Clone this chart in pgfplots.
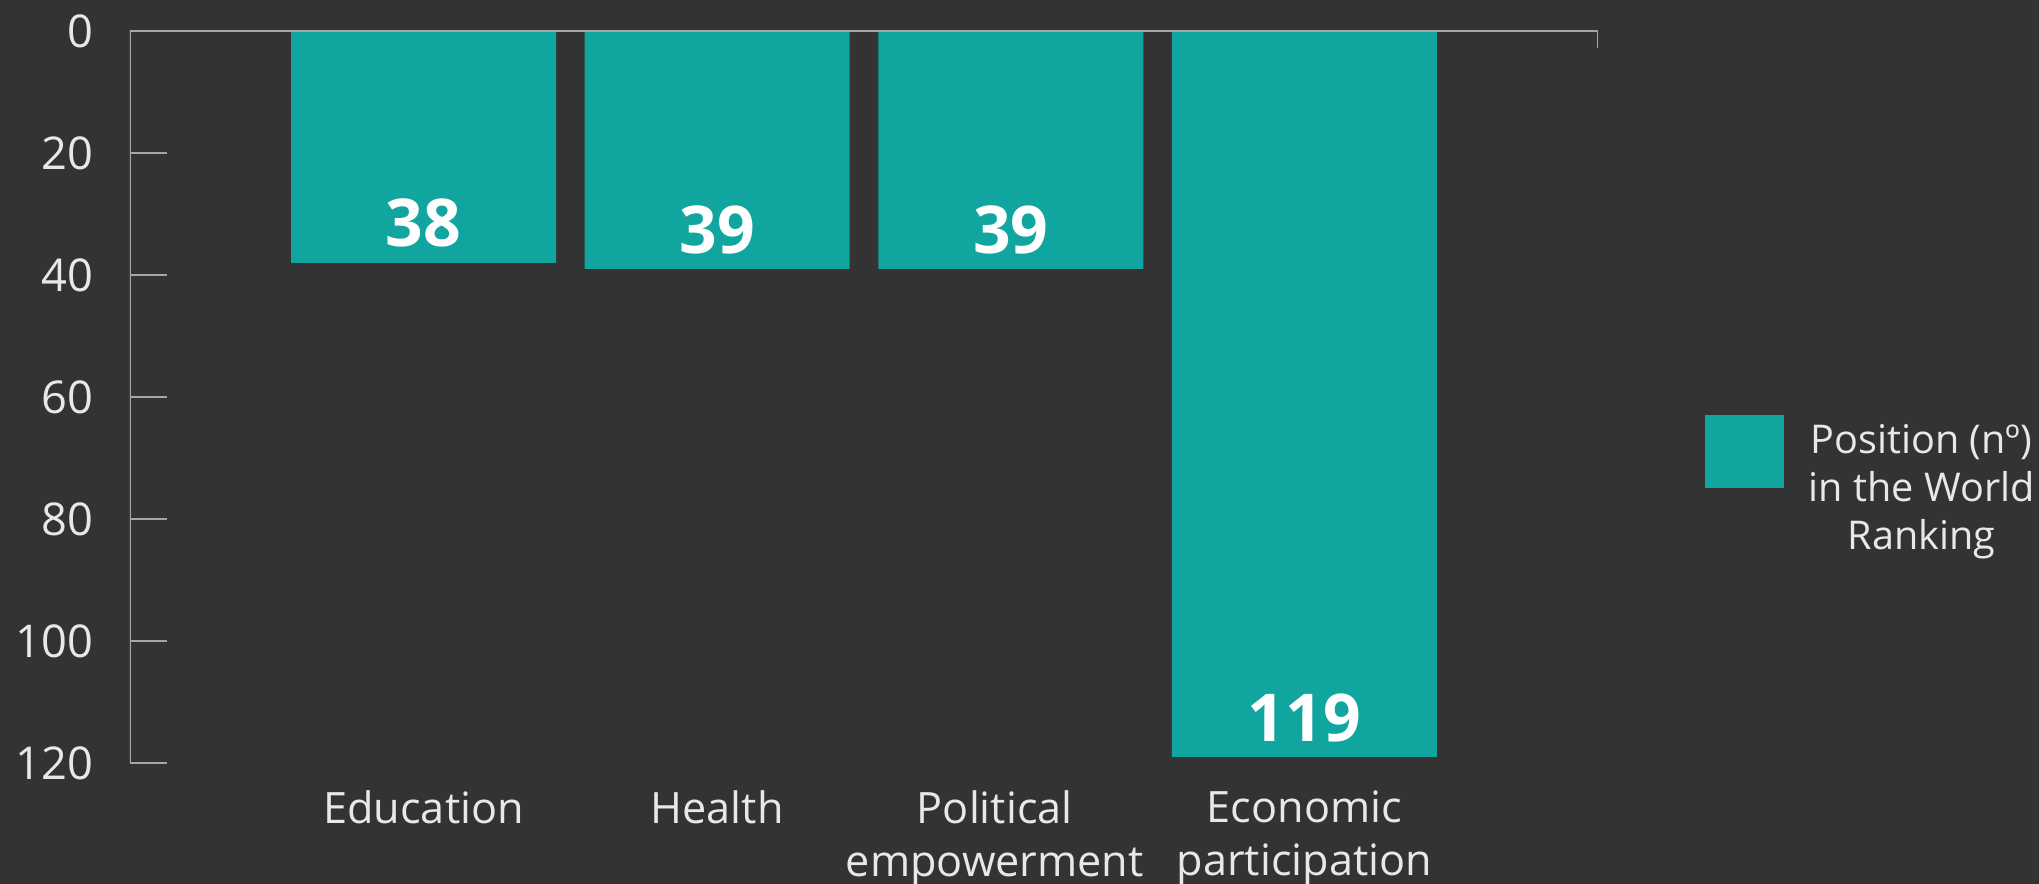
\documentclass[border=0pt]{standalone}
\usepackage{fontspec}
\setmainfont{Open Sans}
\usepackage{pgfplots}
\pgfplotsset{compat=1.18}
\definecolor{bgcol}{HTML}{333333}
\definecolor{barcol}{RGB}{17,165,160}
\definecolor{axcol}{HTML}{A6A6A6}
\definecolor{txtcol}{HTML}{E8E8E8}
\begin{document}
\begin{tikzpicture}
\path[use as bounding box, fill=bgcol] (-32.5pt,-30.25pt) rectangle (477.25pt,190.75pt);
\begin{axis}[
  at={(0,0)}, anchor=south west,
  scale only axis, width=367pt, height=183pt,
  xmin=0, xmax=5, ymin=0, ymax=120, y dir=reverse,
  axis line style={draw=none},
  ytick={0,20,40,60,80,100,120}, ytick pos=left,
  tick align=inside, major tick length=9.25pt,
  ytick style={draw=axcol, line width=0.7pt},
  xtick={1,2,3,4},
  xticklabels={Education,Health,Political\hspace*{8pt}\\empowerment\hspace*{8pt},Economic\\participation},
  xtick style={draw=none},
  xticklabel pos=lower,
  xticklabel style={align=center, font=\fontsize{10.8}{13.25}\selectfont, text=txtcol, yshift=5.9pt},
  yticklabel style={font=\fontsize{11.3}{13}\selectfont, text=txtcol, xshift=-5.6pt},
  /pgf/number format/assume math mode=true,
  ybar, bar width=66.25pt,
  nodes near coords,
  nodes near coords align={anchor=south},
  every node near coord/.append style={font=\fontsize{16.5}{18}\selectfont\bfseries, text=white, inner sep=0pt, yshift=3.6pt},
  legend style={draw=none, fill=none, inner sep=0pt, at={(axis description cs:1.0722,0.477)}, anchor=north west,
    font=\fontsize{9.9}{12}\selectfont, text=txtcol, cells={align=center},
    /tikz/every odd column/.append style={column sep=4.25pt}},
  legend image code/.code={\fill[barcol] (0pt,0.625pt) rectangle (19.75pt,18.875pt);},
]
\addplot[fill=barcol, draw=none] coordinates {(1,38) (2,39) (3,39) (4,119)};
\addlegendentry{Position (nº)\\in the World\\Ranking}
\draw[axcol, line width=0.7pt] (axis cs:0,120) -- (axis cs:0,0) -- (axis cs:5,0) -- ++(0,-4.25pt);
\end{axis}
\end{tikzpicture}
\end{document}
